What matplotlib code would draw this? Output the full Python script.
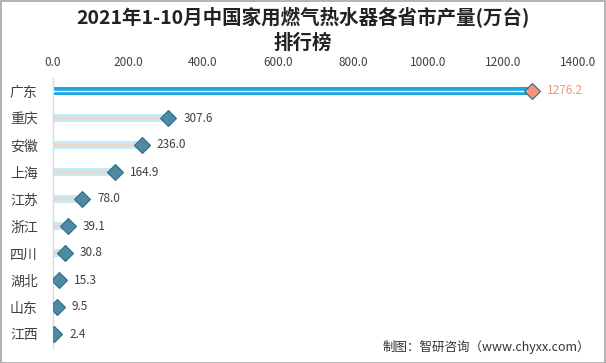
import matplotlib
matplotlib.use("Agg")
import matplotlib.pyplot as plt
from matplotlib.patches import Rectangle

plt.rcParams['font.family'] = ['Noto Sans CJK SC', 'DejaVu Sans']

# data
provinces = ["广东", "重庆", "安徽", "上海", "江苏", "浙江", "四川", "湖北", "山东", "江西"]
output = [1276.2, 307.6, 236.0, 164.9, 78.0, 39.1, 30.8, 15.3, 9.5, 2.4]
x_ticks = [0, 200, 400, 600, 800, 1000, 1200, 1400]

text_col = "#404040"
light_blue = "#c6e8f7"
light_orange = "#f9d3b1"
dark_blue = "#1aa7e2"
diamond = "#4f89a4"
diamond_edge = "#2f6d84"
salmon = "#f2937a"

fig = plt.figure(figsize=(6.06, 3.63), dpi=100)
ax = fig.add_axes([53 / 606, 15.5 / 363, 525 / 606, 270 / 363])

ys = list(range(len(provinces)))
for i, (name, val) in enumerate(zip(provinces, output)):
    if i == 0:
        ax.barh(i, val, height=0.30, color=dark_blue, zorder=2)
        ax.plot([0, val], [i, i], color="white", lw=1.0, zorder=3)
        ax.plot(val, i, marker="D", ms=8, color=salmon, mec=diamond_edge,
                mew=0.8, zorder=4)
        ax.text(val + 1400 * 0.029, i, f"{val:.1f}", color=salmon,
                fontsize=8.5, va="center", ha="left")
    else:
        ax.barh(i, val, height=0.26, color=light_blue, zorder=2)
        ax.plot([0, val], [i, i], color=light_orange, lw=1.3, zorder=3)
        ax.plot(val, i, marker="D", ms=8, color=diamond, mec=diamond_edge,
                mew=0.8, zorder=4)
        ax.text(val + 1400 * 0.029, i, f"{val:.1f}", color=text_col,
                fontsize=8.5, va="center", ha="left")

ax.set_xlim(0, 1400)
ax.set_ylim(len(provinces) - 0.5, -0.5)
ax.set_xticks(x_ticks)
ax.set_xticklabels([f"{t:.1f}" for t in x_ticks], fontsize=8.5, color=text_col)
ax.xaxis.tick_top()
ax.tick_params(axis="x", length=0, pad=6)
ax.set_yticks(ys)
ax.set_yticklabels(provinces, fontsize=10, color=text_col)
ax.tick_params(axis="y", length=0, pad=11)
for s in ["top", "right", "bottom"]:
    ax.spines[s].set_visible(False)
ax.spines["left"].set_color("#d9d9d9")
ax.spines["left"].set_linewidth(1.0)
ax.set_facecolor("none")

fig.text(0.5, 1 - 18 / 363, "2021年1-10月中国家用燃气热水器各省市产量(万台)",
         ha="center", va="center", fontsize=14, fontweight="bold", color="#222222")
fig.text(0.5, 1 - 43 / 363, "排行榜",
         ha="center", va="center", fontsize=14, fontweight="bold", color="#222222")
fig.text(590 / 606, 1 - 347 / 363, "制图：智研咨询（www.chyxx.com）",
         ha="right", va="center", fontsize=9, color="#333333")

# outer frame
fig.patches.append(Rectangle((0.5 / 606, 0.5 / 363), 1 - 1.5 / 606, 1 - 1.5 / 363,
                             transform=fig.transFigure, fill=False,
                             edgecolor="#a6a6a6", lw=1.2))

fig.savefig("out.png", dpi=100)
